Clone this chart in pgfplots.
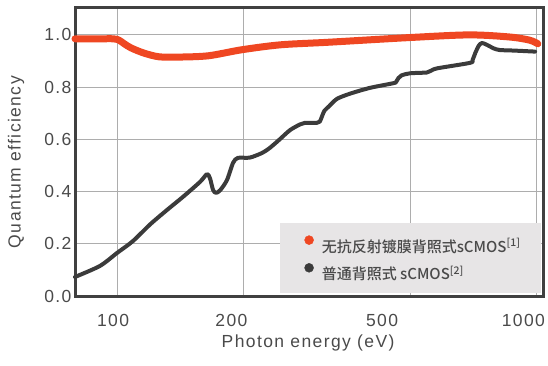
\documentclass[border=0pt]{standalone}
\usepackage{fontspec}
\setmainfont{Liberation Sans}
\newfontfamily\labfont[LetterSpace=8]{Liberation Sans}
\newfontfamily\cjk{Noto Sans CJK SC}[UprightFont=* Medium]
\usepackage{pgfplots}
\pgfplotsset{compat=1.18}
\definecolor{qeRed}{HTML}{EF4722}
\definecolor{qeBlack}{HTML}{3B3B3B}
\definecolor{axisgray}{HTML}{404040}
\definecolor{gridgray}{HTML}{ADADAD}
\definecolor{legendbg}{HTML}{E7E5E6}
\definecolor{textgray}{HTML}{4A4A4A}
\begin{document}
\begin{tikzpicture}
\begin{axis}[
  name=ax,
  scale only axis,
  width=468bp, height=288bp,
  xmode=log,
  xmin=79.4, xmax=1034,
  ymin=0, ymax=1.103,
  xtick={100,200,500,1000},
  xticklabels={\makebox[0pt]{100\kern8bp},\makebox[0pt]{200\kern24bp},\makebox[0pt]{500\kern57bp},\makebox[0pt]{1000\kern27bp}},
  ytick={0,0.2,0.4,0.6,0.8,1.0},
  yticklabels={0.0,0.2,0.4,0.6,0.8,1.0},
  /pgf/number format/assume math mode=true,
  grid=major,
  major grid style={draw=gridgray, line width=1bp},
  major tick length=0pt,
  tick style={draw=none},
  axis line style={draw=axisgray, line width=3bp},
  ticklabel style={font=\labfont\fontsize{17.5bp}{20bp}\selectfont, text=textgray},
  xticklabel style={anchor=center, yshift=-24bp},
  xlabel={Photon energy (eV)},
  ylabel={Quantum efficiency},
  xlabel style={at={(rel axis cs:0.498,-0.163)}, anchor=center, font=\labfont\fontsize{17.5bp}{20bp}\selectfont, text=textgray},
  ylabel style={at={(rel axis cs:-0.126,0.465)}, anchor=center, font=\labfont\fontsize{17.5bp}{20bp}\selectfont, text=textgray},
  clip=false,
  legend cell align=left,
  legend style={fill=legendbg, draw=none,
    at={(rel axis cs:0.9957,0.0104)}, anchor=south east,
    inner xsep=24bp, inner ysep=12bp, row sep=10bp,
    nodes={inner sep=0pt, text height=14bp, text depth=1bp},
    font=\cjk\fontsize{15bp}{18bp}\selectfont, text=textgray,
    /tikz/every odd column/.append style={column sep=8bp}},
]
\addplot[forget plot, qeRed, line width=7bp, line cap=round, line join=round, smooth, tension=0.5] coordinates {
(79.4,0.985) (91,0.985) (98,0.985) (101,0.980) (104,0.966) (108,0.950) (116,0.930) (126,0.916) (140,0.915) (165,0.920) (198,0.943) (245,0.962) (320,0.972) (500,0.990) (690,1.000) (860,0.992) (960,0.980) (1005,0.966)
};
\addplot[forget plot, qeBlack, line width=4bp, line cap=round, line join=round, smooth, tension=0.45] coordinates {
(79.4,0.073) (91,0.115) (100,0.165) (109,0.210) (120,0.275) (131.6,0.330) (143.6,0.380) (157.6,0.437) (163.8,0.467) (166.5,0.450) (169.3,0.406) (172,0.395) (176,0.405) (182.7,0.444) (188.9,0.510) (194,0.529) (207,0.530) (221.6,0.548) (231,0.567) (244,0.600) (258,0.635) (272.6,0.657) (280,0.663) (299,0.663) (304,0.668) (308,0.690) (312,0.710) (320,0.727) (334,0.755) (359,0.775) (400,0.797) (455,0.815) (462,0.820) (468,0.835) (476,0.845) (499,0.853) (547,0.856) (560,0.863) (579,0.872) (693,0.893) (703,0.905) (715,0.935) (728,0.960) (740,0.969) (760,0.962) (790,0.948) (816,0.942) (880,0.940) (990,0.936)
};
\addlegendimage{legend image code/.code={\fill[qeRed] (0bp,5.5bp) circle (4.5bp);}}
\addlegendentry{\makebox[195bp][l]{无抗反射镀膜背照式sCMOS\textsuperscript{[1]}}}
\addlegendimage{legend image code/.code={\fill[qeBlack] (0bp,5.5bp) circle (4.5bp);}}
\addlegendentry{\makebox[195bp][l]{普通背照式 sCMOS\textsuperscript{[2]}}}
\end{axis}
\path (ax.south west) ++(-75bp,-70bp) rectangle ([shift={(5bp,8bp)}]ax.north east);
\end{tikzpicture}
\end{document}
